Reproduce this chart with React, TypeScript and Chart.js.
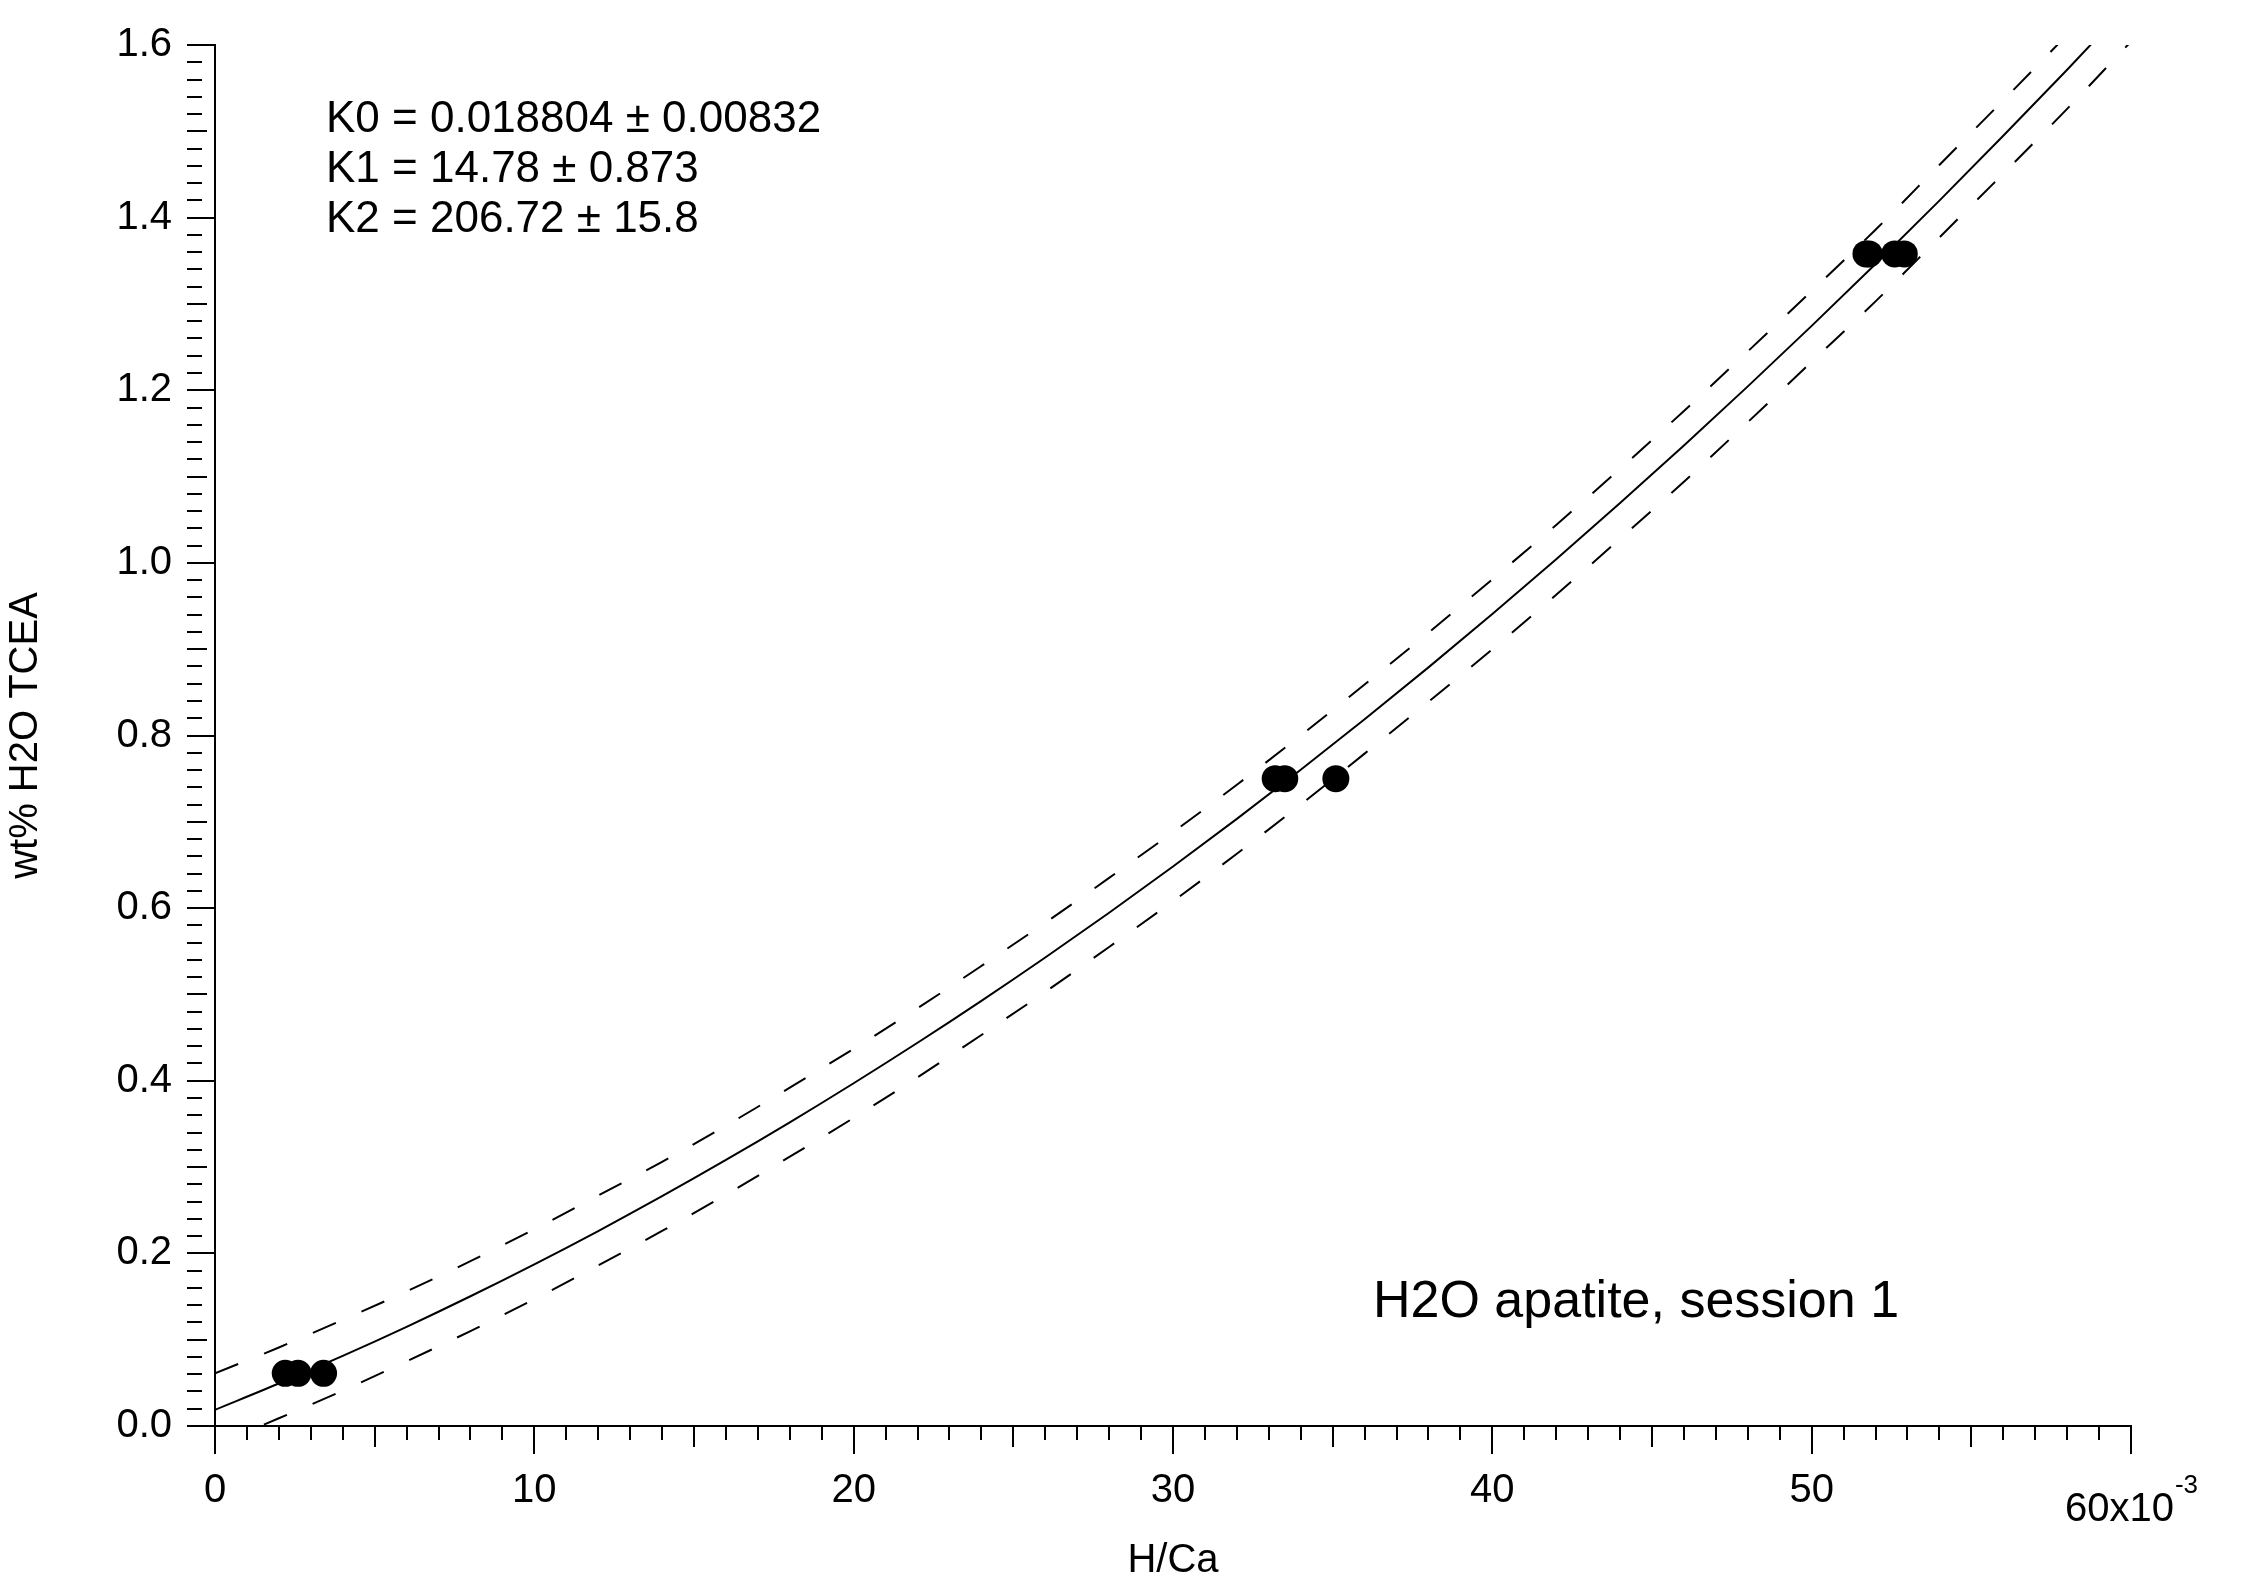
import React, { useEffect, useRef } from 'react';
import { Chart, registerables } from 'chart.js';

Chart.register(...registerables);

// ---- data (H/Ca in units of 10^-3, wt% H2O) ----
const hcaGrid = [0, 2, 4, 6, 8, 10, 12, 14, 16, 18, 20, 22, 24, 26, 28, 30, 32, 34, 36, 38, 40, 42, 44, 46, 48, 50, 52, 54, 56, 58, 60];
const fitWt = [0.0188, 0.0492, 0.0812, 0.1149, 0.1503, 0.1873, 0.2259, 0.2662, 0.3082, 0.3518, 0.3971, 0.4440, 0.4926, 0.5428, 0.5947, 0.6482, 0.7034, 0.7603, 0.8188, 0.8789, 0.9408, 1.0042, 1.0693, 1.1361, 1.2045, 1.2746, 1.3463, 1.4197, 1.4948, 1.5714, 1.6498];
const upperWt = [0.061, 0.091, 0.123, 0.156, 0.191, 0.228, 0.267, 0.306, 0.348, 0.392, 0.437, 0.484, 0.533, 0.583, 0.635, 0.688, 0.743, 0.800, 0.859, 0.919, 0.981, 1.044, 1.109, 1.176, 1.245, 1.315, 1.386, 1.461, 1.536, 1.612, 1.692];
const lowerWt = [-0.022, 0.009, 0.041, 0.075, 0.110, 0.147, 0.186, 0.226, 0.268, 0.312, 0.357, 0.404, 0.453, 0.503, 0.555, 0.608, 0.663, 0.720, 0.779, 0.839, 0.900, 0.963, 1.028, 1.094, 1.163, 1.233, 1.303, 1.377, 1.451, 1.526, 1.604];
const sampleHCa = [2.2, 2.6, 3.4, 33.2, 33.5, 35.1, 51.7, 51.8, 52.6, 52.9];
const sampleWt = [0.061, 0.061, 0.061, 0.75, 0.75, 0.75, 1.358, 1.358, 1.358, 1.358];

const xTickLabels = ['0', '10', '20', '30', '40', '50'];
const yTickLabels = ['0.0', '0.2', '0.4', '0.6', '0.8', '1.0', '1.2', '1.4', '1.6'];
const xEndLabel = '60x10';
const xEndExponent = '-3';
const xAxisTitle = 'H/Ca';
const yAxisTitle = 'wt% H2O TCEA';
const fitLines = ['K0 = 0.018804 ± 0.00832', 'K1 = 14.78 ± 0.873', 'K2 = 206.72 ± 15.8'];
const sessionLabel = 'H2O apatite, session 1';

const FONT = '"Liberation Sans", Arial, Helvetica, sans-serif';

const near = (v: number, step: number) => Math.abs(v / step - Math.round(v / step)) < 1e-6;

const annotationPlugin = {
  id: 'annotations',
  afterDraw(chart: any) {
    const { ctx, scales } = chart;
    const xs = scales.x;
    ctx.save();
    ctx.fillStyle = '#000';
    ctx.textAlign = 'left';
    ctx.textBaseline = 'middle';
    ctx.font = `44px ${FONT}`;
    fitLines.forEach((t, i) => ctx.fillText(t, 326, 120 + 50 * i));
    ctx.font = `52px ${FONT}`;
    ctx.fillText(sessionLabel, 1373, 1303);

    // "60x10^-3" end label of the x axis
    const px = xs.getPixelForValue(60);
    ctx.textBaseline = 'alphabetic';
    ctx.font = `40px ${FONT}`;
    const w1 = ctx.measureText(xEndLabel).width;
    ctx.font = `26px ${FONT}`;
    const w2 = ctx.measureText(xEndExponent).width;
    const x0 = px - (w1 + w2) / 2;
    ctx.font = `40px ${FONT}`;
    ctx.fillText(xEndLabel, x0, xs.top + 95);
    ctx.font = `26px ${FONT}`;
    ctx.fillText(xEndExponent, x0 + w1 + 1, xs.top + 67);
    ctx.restore();
  },
};

export default function App() {
  const canvasRef = useRef<HTMLCanvasElement | null>(null);

  useEffect(() => {
    document.body.style.margin = '0';
    const canvas = canvasRef.current;
    if (!canvas) return;

    const toPts = (xs: number[], ys: number[]) => xs.map((x, i) => ({ x, y: ys[i] }));

    const chart = new Chart(canvas, {
      type: 'scatter',
      data: {
        datasets: [
          {
            label: 'samples',
            data: toPts(sampleHCa, sampleWt),
            pointRadius: 13.5,
            pointHoverRadius: 13.5,
            backgroundColor: '#000',
            borderColor: '#000',
            borderWidth: 0,
            showLine: false,
          },
          {
            label: 'fit',
            data: toPts(hcaGrid, fitWt),
            showLine: true,
            borderColor: '#000',
            borderWidth: 2,
            pointRadius: 0,
            cubicInterpolationMode: 'monotone',
            fill: false,
          },
          {
            label: 'upper',
            data: toPts(hcaGrid, upperWt),
            showLine: true,
            borderColor: '#000',
            borderWidth: 2,
            borderDash: [25, 28],
            pointRadius: 0,
            cubicInterpolationMode: 'monotone',
            fill: false,
          },
          {
            label: 'lower',
            data: toPts(hcaGrid, lowerWt),
            showLine: true,
            borderColor: '#000',
            borderWidth: 2,
            borderDash: [25, 28],
            pointRadius: 0,
            cubicInterpolationMode: 'monotone',
            fill: false,
          },
        ],
      },
      options: {
        responsive: false,
        animation: false,
        devicePixelRatio: 1,
        layout: { padding: { top: 45, right: 110, left: 0, bottom: 0 } },
        plugins: {
          legend: { display: false },
          tooltip: { enabled: false },
          title: { display: false },
        },
        events: [],
        scales: {
          x: {
            type: 'linear',
            position: 'bottom',
            min: 0,
            max: 60,
            afterFit: (s: any) => {
              s.height = 161;
            },
            border: { display: true, color: '#000', width: 2 },
            grid: {
              display: true,
              drawOnChartArea: false,
              drawTicks: true,
              tickLength: 28,
              color: '#000',
              lineWidth: 2,
              tickColor: '#000',
              tickWidth: 2,
              tickBorderDash: (c: any) => {
                const v = c.tick ? c.tick.value : 0;
                if (near(v, 10)) return [];
                if (near(v, 5)) return [20, 200];
                return [13, 200];
              },
            },
            ticks: {
              stepSize: 1,
              autoSkip: false,
              maxRotation: 0,
              minRotation: 0,
              padding: 13,
              color: '#000',
              font: { family: FONT, size: 40 },
              callback: (v: any) => {
                const n = Number(v);
                if (near(n, 10) && n < 59.5) return xTickLabels[Math.round(n / 10)];
                return '';
              },
            },
            title: {
              display: true,
              text: xAxisTitle,
              color: '#000',
              font: { family: FONT, size: 40 },
              padding: { top: 0, bottom: 2 },
            },
          },
          y: {
            type: 'linear',
            position: 'left',
            min: 0,
            max: 1.6,
            afterFit: (s: any) => {
              s.width = 215;
            },
            border: { display: true, color: '#000', width: 2 },
            grid: {
              display: true,
              drawOnChartArea: false,
              drawTicks: true,
              tickLength: 28,
              color: '#000',
              lineWidth: 2,
              tickColor: '#000',
              tickWidth: 2,
              tickBorderDash: (c: any) => {
                const v = c.tick ? c.tick.value : 0;
                if (near(v, 0.2)) return [];
                if (near(v, 0.1)) return [20, 200];
                return [15, 200];
              },
            },
            ticks: {
              stepSize: 0.02,
              autoSkip: false,
              padding: 15,
              color: '#000',
              font: { family: FONT, size: 40 },
              callback: (v: any) => {
                const n = Number(v);
                if (near(n, 0.2)) return yTickLabels[Math.round(n / 0.2)];
                return '';
              },
            },
            title: {
              display: true,
              text: yAxisTitle,
              color: '#000',
              font: { family: FONT, size: 40 },
              padding: { top: 2, bottom: 0 },
            },
          },
        },
      },
      plugins: [annotationPlugin],
    } as any);

    return () => {
      chart.destroy();
    };
  }, []);

  return (
    <div style={{ position: 'relative', width: 2241, height: 1587, background: '#fff' }}>
      <canvas ref={canvasRef} width={2241} height={1587} style={{ display: 'block' }} />
    </div>
  );
}
